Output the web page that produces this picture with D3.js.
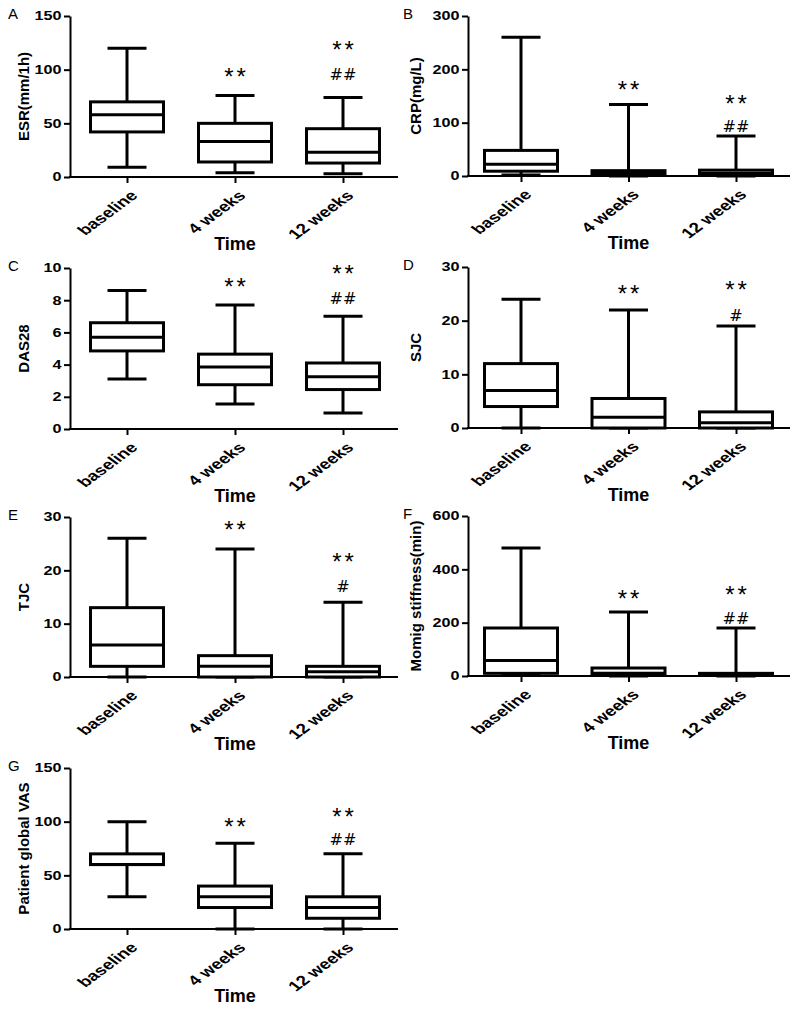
<!DOCTYPE html>
<html>
<head>
<meta charset="utf-8">
<script src="https://cdn.jsdelivr.net/npm/d3@7"></script>
<style>
html,body{margin:0;padding:0;background:#fff;}
svg{display:block;}
</style>
</head>
<body>
<svg id="chart" width="800" height="1011"></svg>
<script>
// ---- data ----
const categories = ["baseline", "4 weeks", "12 weeks"];
// each row: [min, Q1, median, Q3, max]
const esrStats  = [[9, 42, 58, 70, 120], [4, 14, 33, 50, 76], [3, 13, 23, 45, 74]];
const crpStats  = [[2, 9, 22, 48, 260], [0, 1, 5, 10, 134], [0, 1, 5, 11, 75]];
const das28Stats = [[3.1, 4.85, 5.7, 6.6, 8.6], [1.55, 2.75, 3.85, 4.65, 7.7], [1.0, 2.45, 3.25, 4.1, 7.0]];
const sjcStats  = [[0, 4, 7, 12, 24], [0, 0, 2, 5.5, 22], [0, 0, 1, 3, 19]];
const tjcStats  = [[0, 2, 6, 13, 26], [0, 0, 2, 4, 24], [0, 0, 1, 2, 14]];
const mornStats = [[5, 10, 58, 180, 480], [0, 4, 10, 30, 240], [0, 2, 5, 10, 180]];
const vasStats  = [[30, 60, 60, 70, 100], [0, 20, 30, 40, 80], [0, 10, 20, 30, 70]];

// y tick values per panel
const esrTicks = [0, 50, 100, 150];
const crpTicks = [0, 100, 200, 300];
const das28Ticks = [0, 2, 4, 6, 8, 10];
const sjcTicks = [0, 10, 20, 30];
const tjcTicks = [0, 10, 20, 30];
const mornTicks = [0, 200, 400, 600];
const vasTicks = [0, 50, 100, 150];

// significance marks: [text, category, value at which the mark is centred]
const esrMarks  = [["**", "4 weeks", 100], ["**", "12 weeks", 125], ["##", "12 weeks", 96]];
const crpMarks  = [["**", "4 weeks", 174], ["**", "12 weeks", 148], ["##", "12 weeks", 94]];
const das28Marks = [["**", "4 weeks", 9.25], ["**", "12 weeks", 10.06], ["##", "12 weeks", 8.14]];
const sjcMarks  = [["**", "4 weeks", 26.3], ["**", "12 weeks", 27.0], ["#", "12 weeks", 21.0]];
const tjcMarks  = [["**", "4 weeks", 28.9], ["**", "12 weeks", 22.9], ["#", "12 weeks", 17.1]];
const mornMarks = [["**", "4 weeks", 315], ["**", "12 weeks", 330], ["##", "12 weeks", 217]];
const vasMarks  = [["**", "4 weeks", 101.6], ["**", "12 weeks", 110.9], ["##", "12 weeks", 83.9]];

// ---- layout ----
const cols = [
  {ax: 70, axEnd: 398, x0: 127, x1: 343, letterX: 8, labelX: 29},
  {ax: 468, axEnd: 790, x0: 521, x1: 736, letterX: 403, labelX: 421}
];
const panels = [
  {letter: "A", col: 0, y0: 177, yTop: 16, max: 150, ticks: esrTicks, stats: esrStats, marks: esrMarks, label: "ESR(mm/1h)"},
  {letter: "B", col: 1, y0: 176, yTop: 16, max: 300, ticks: crpTicks, stats: crpStats, marks: crpMarks, label: "CRP(mg/L)"},
  {letter: "C", col: 0, y0: 429, yTop: 268, max: 10, ticks: das28Ticks, stats: das28Stats, marks: das28Marks, label: "DAS28"},
  {letter: "D", col: 1, y0: 428, yTop: 267, max: 30, ticks: sjcTicks, stats: sjcStats, marks: sjcMarks, label: "SJC"},
  {letter: "E", col: 0, y0: 677, yTop: 517, max: 30, ticks: tjcTicks, stats: tjcStats, marks: tjcMarks, label: "TJC"},
  {letter: "F", col: 1, y0: 676, yTop: 516, max: 600, ticks: mornTicks, stats: mornStats, marks: mornMarks, label: "Momig stiffness(min)"},
  {letter: "G", col: 0, y0: 929, yTop: 768, max: 150, ticks: vasTicks, stats: vasStats, marks: vasMarks, label: "Patient global VAS"}
];

const svg = d3.select("#chart");
const BOX_W = 73, CAP_W = 39, LW = 3, SX = 1.35;
const FONT = "Liberation Sans, Arial, Helvetica, sans-serif";

panels.forEach(p => {
  const c = cols[p.col];
  const g = svg.append("g");
  const x = d3.scalePoint().domain(categories).range([c.x0, c.x1]);
  const y = d3.scaleLinear().domain([0, p.max]).range([p.y0, p.yTop]);

  // panel letter
  g.append("text").attr("x", c.letterX).attr("y", p.yTop + 3)
    .attr("font-family", FONT).attr("font-size", 15)
    .text(p.letter);

  // y axis
  const ya = g.append("g").attr("transform", `translate(${c.ax},0)`)
    .call(d3.axisLeft(y).tickValues(p.ticks).tickSize(6).tickSizeOuter(0).tickPadding(2));
  ya.select(".domain").attr("stroke-width", 2);
  ya.selectAll(".tick line").attr("stroke-width", 2);
  ya.selectAll(".tick text").attr("font-family", FONT)
    .attr("font-weight", "bold").attr("font-size", 12).attr("fill", "#000")
    .attr("x", -8.5 / SX).attr("transform", `scale(${SX},1)`);

  // y label
  g.append("text")
    .attr("transform", `translate(${c.labelX},${(p.y0 + p.yTop) / 2}) rotate(-90)`)
    .attr("text-anchor", "middle")
    .attr("font-family", FONT).attr("font-weight", "bold")
    .attr("font-size", 15).text(p.label);

  // x axis
  g.append("line").attr("x1", c.ax - 1).attr("x2", c.axEnd).attr("y1", p.y0).attr("y2", p.y0)
    .attr("stroke", "#000").attr("stroke-width", 2);
  const xa = g.append("g").attr("transform", `translate(0,${p.y0})`)
    .call(d3.axisBottom(x).tickSize(6).tickFormat(""));
  xa.select(".domain").remove();
  xa.selectAll(".tick line").attr("stroke-width", 2);

  // x tick labels
  g.selectAll(".xl").data(categories).join("text")
    .attr("transform", d => `translate(${x(d) + 7},${p.y0 + 16}) scale(${SX},1) rotate(-45)`)
    .attr("text-anchor", "end").attr("dy", "0.35em")
    .attr("font-family", FONT).attr("font-weight", "bold")
    .attr("font-size", 14).text(d => d);

  // x title
  g.append("text").attr("x", x(categories[1])).attr("y", p.y0 + 73)
    .attr("text-anchor", "middle")
    .attr("font-family", FONT).attr("font-weight", "bold")
    .attr("font-size", 18).text("Time");

  // boxes
  categories.forEach((cat, i) => {
    const s = p.stats[i];
    const cx = x(cat);
    const bg = g.append("g").attr("stroke", "#000").attr("stroke-width", LW).attr("fill", "none");
    bg.append("line").attr("x1", cx).attr("x2", cx).attr("y1", y(s[0])).attr("y2", y(s[4]));
    bg.append("line").attr("x1", cx - CAP_W / 2).attr("x2", cx + CAP_W / 2).attr("y1", y(s[0])).attr("y2", y(s[0]));
    bg.append("line").attr("x1", cx - CAP_W / 2).attr("x2", cx + CAP_W / 2).attr("y1", y(s[4])).attr("y2", y(s[4]));
    bg.append("rect").attr("x", cx - BOX_W / 2).attr("width", BOX_W)
      .attr("y", y(s[3])).attr("height", Math.max(0, y(s[1]) - y(s[3])))
      .attr("fill", "#fff");
    bg.append("line").attr("x1", cx - BOX_W / 2).attr("x2", cx + BOX_W / 2).attr("y1", y(s[2])).attr("y2", y(s[2]));
  });

  // significance marks
  p.marks.forEach(m => {
    const isStar = m[0][0] === "*";
    g.append("text").attr("x", x(m[1]) + (isStar ? 1.5 : 0)).attr("y", y(m[2]))
      .attr("text-anchor", "middle")
      .attr("dy", isStar ? "0.62em" : "0.36em")
      .attr("font-family", isStar ? FONT : "DejaVu Sans, sans-serif")
      .attr("font-size", isStar ? 24 : 16)
      .attr("letter-spacing", isStar ? 3 : 0)
      .text(m[0]);
  });
});
</script>
</body>
</html>
